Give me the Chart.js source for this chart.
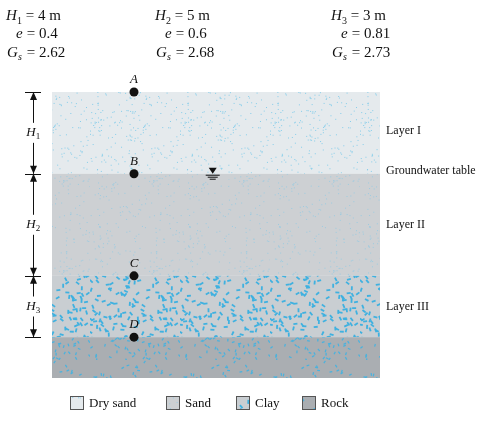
<!DOCTYPE html>
<html>
<head>
<meta charset="UTF-8" />
<script src="https://cdn.jsdelivr.net/npm/chart.js"></script>
<style>
  body { margin: 0; background: #fff; }
  #wrap { position: relative; width: 499px; height: 423px; }
</style>
</head>
<body>
<div id="wrap"><canvas id="soil"></canvas></div>
<script>
// layer boundaries (depth in m, measured down from A)
const layerNames = ['Dry sand', 'Sand', 'Clay', 'Rock'];
const layerTops = [0, 4, 9, 12];
const layerBottoms = [4, 9, 12, 14];
const pointLabels = ['A', 'B', 'C', 'D'];
const pointDepths = [0, 4, 9, 12];
const pointX = 2.5;
const layerTags = ['Layer I', 'Layer II', 'Layer III'];
const props = [
  { H: '1', v: '4 m', e: '0.4', G: '2.62' },
  { H: '2', v: '5 m', e: '0.6', G: '2.68' },
  { H: '3', v: '3 m', e: '0.81', G: '2.73' }
];

// speckle textures, deterministic
function makePattern(bg, dot, size, count, big, seed) {
  const N = 90;
  const c = document.createElement('canvas');
  c.width = c.height = N;
  const g = c.getContext('2d');
  g.fillStyle = bg; g.fillRect(0, 0, N, N);
  g.fillStyle = dot;
  let s = seed;
  const next = () => { s = (s * 9301 + 49297) % 233280; return s / 233280; };
  for (let i = 0; i < count; i++) {
    const x = next() * N, y = next() * N;
    if (big) {
      g.save(); g.translate(x, y); g.rotate(next() * 6.28);
      g.fillRect(-size, -size / 2.5, size * 2, size * 0.9);
      g.restore();
    } else {
      g.fillRect(x, y, size, size);
    }
  }
  return g.createPattern(c, 'repeat');
}
const fills = [
  makePattern('#e5eaed', '#86cdea', 1, 220, false, 7),
  makePattern('#cdd0d3', '#9ccbe0', 1, 180, false, 13),
  makePattern('#c9ced2', '#3fb1e0', 2, 190, true, 29),
  makePattern('#aaaeb2', '#4ab2de', 1.4, 150, true, 41)
];

const serif = '"Liberation Serif", "DejaVu Serif", serif';

const layers = {
  id: 'layers',
  beforeDatasetsDraw(chart) {
    const g = chart.ctx, xs = chart.scales.x, ys = chart.scales.y;
    g.save();
    layerNames.forEach((n, i) => {
      const x0 = xs.getPixelForValue(0), x1 = xs.getPixelForValue(10);
      const y0 = ys.getPixelForValue(layerTops[i]), y1 = ys.getPixelForValue(layerBottoms[i]);
      g.fillStyle = fills[i];
      g.fillRect(x0, y0, x1 - x0, y1 - y0);
    });
    g.restore();
  }
};

const decor = {
  id: 'decor',
  afterDatasetsDraw(chart) {
    const g = chart.ctx, xs = chart.scales.x, ys = chart.scales.y;
    const area = chart.chartArea;
    g.save();
    g.fillStyle = '#111'; g.strokeStyle = '#111';

    // header text
    const cols = [6, 155, 331];
    props.forEach((p, i) => {
      const x0 = cols[i];
      g.textAlign = 'left'; g.textBaseline = 'alphabetic';
      g.font = 'italic 15px ' + serif; g.fillText('H', x0, 20);
      g.font = '10px ' + serif; g.fillText(p.H, x0 + 11, 24);
      g.font = '15px ' + serif; g.fillText(' = ' + p.v, x0 + 16, 20);
      g.font = 'italic 15px ' + serif; g.fillText('e', x0 + 10, 38);
      g.font = '15px ' + serif; g.fillText(' = ' + p.e, x0 + 17, 38);
      g.font = 'italic 15px ' + serif; g.fillText('G', x0 + 1, 57);
      g.font = 'italic 10px ' + serif; g.fillText('s', x0 + 12, 60);
      g.font = '15px ' + serif; g.fillText(' = ' + p.G, x0 + 17, 57);
    });

    // point letters
    g.font = 'italic 13px ' + serif; g.textAlign = 'center';
    pointDepths.forEach((d, i) => {
      g.fillText(pointLabels[i], xs.getPixelForValue(pointX), ys.getPixelForValue(d) - 9);
    });

    // right side labels
    g.font = '12px ' + serif; g.textAlign = 'left'; g.textBaseline = 'middle';
    const mids = [1.9, 6.5, 10.5];
    layerTags.forEach((t, i) => g.fillText(t, area.right + 6, ys.getPixelForValue(mids[i])));
    g.fillText('Groundwater table', area.right + 6, ys.getPixelForValue(4) - 3);

    // water table symbol
    const wx = xs.getPixelForValue(4.9), wy = ys.getPixelForValue(4) + 1;
    g.beginPath(); g.moveTo(wx - 4, wy - 7); g.lineTo(wx + 4, wy - 7); g.lineTo(wx, wy - 1); g.closePath(); g.fill();
    g.lineWidth = 1;
    [[0, 7], [2, 5], [4, 3]].forEach(([dy, w]) => {
      g.beginPath(); g.moveTo(wx - w, wy + dy + 0.5); g.lineTo(wx + w, wy + dy + 0.5); g.stroke();
    });

    // dimension lines on the left
    const dx = 33;
    const ticks = [0, 4, 9, 12];
    ticks.forEach(d => {
      const y = Math.round(ys.getPixelForValue(d)) + 0.5;
      g.beginPath(); g.moveTo(dx - 8, y); g.lineTo(dx + 8, y); g.stroke();
    });
    for (let i = 0; i < 3; i++) {
      const y0 = ys.getPixelForValue(ticks[i]), y1 = ys.getPixelForValue(ticks[i + 1]);
      const ym = (y0 + y1) / 2;
      g.beginPath();
      g.moveTo(dx + 0.5, y0); g.lineTo(dx + 0.5, ym - 10);
      g.moveTo(dx + 0.5, ym + 10); g.lineTo(dx + 0.5, y1);
      g.stroke();
      [[y0, 1], [y1, -1]].forEach(([y, s]) => {
        g.beginPath(); g.moveTo(dx + 0.5, y); g.lineTo(dx - 3, y + 8 * s); g.lineTo(dx + 4, y + 8 * s); g.closePath(); g.fill();
      });
      g.textAlign = 'center';
      g.font = 'italic 13px ' + serif; g.fillText('H', dx - 2, ym);
      g.font = '9px ' + serif; g.fillText(String(i + 1), dx + 5, ym + 4);
    }

    // legend
    const lx = [70, 166, 236, 302];
    const ly = 403;
    g.textBaseline = 'middle'; g.textAlign = 'left'; g.font = '13px ' + serif;
    layerNames.forEach((n, i) => {
      g.fillStyle = fills[i];
      g.fillRect(lx[i], ly - 7, 14, 14);
      g.strokeStyle = '#555'; g.strokeRect(lx[i] + 0.5, ly - 6.5, 13, 13);
      g.fillStyle = '#111';
      g.fillText(n, lx[i] + 19, ly + 1);
    });
    g.restore();
  }
};

new Chart(document.getElementById('soil'), {
  type: 'scatter',
  data: {
    datasets: [{
      label: 'points',
      data: pointDepths.map(d => ({ x: pointX, y: d })),
      pointRadius: 4.5,
      pointBackgroundColor: '#111',
      pointBorderWidth: 0,
      clip: false
    }]
  },
  options: {
    responsive: true,
    maintainAspectRatio: false,
    animation: false,
    layout: { padding: { left: 52, right: 119, top: 92, bottom: 45 } },
    scales: {
      x: { type: 'linear', min: 0, max: 10, display: false },
      y: { type: 'linear', min: 0, max: 14, reverse: true, display: false }
    },
    plugins: { legend: { display: false }, tooltip: { enabled: false } }
  },
  plugins: [layers, decor]
});
</script>
</body>
</html>
